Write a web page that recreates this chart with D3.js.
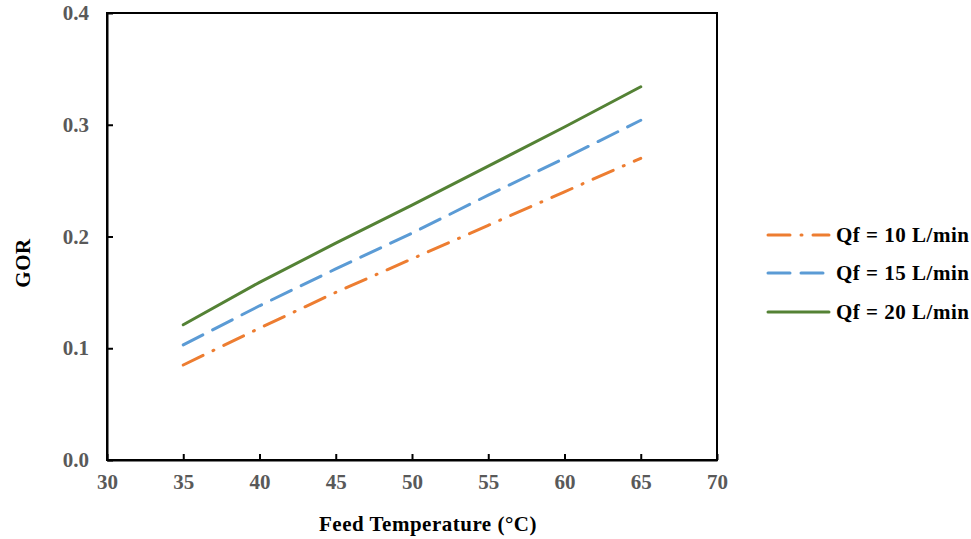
<!DOCTYPE html>
<html><head><meta charset="utf-8">
<script src="https://cdn.jsdelivr.net/npm/d3@7"></script>
<style>body{margin:0;background:#fff;} svg{display:block;}</style>
</head><body>
<svg id="chart" width="971" height="539"></svg>
<script>
const temps = [35, 40, 45, 50, 55, 60, 65];
const gor10 = [0.085, 0.118, 0.150, 0.180, 0.210, 0.240, 0.270];
const gor15 = [0.103, 0.138, 0.171, 0.203, 0.237, 0.270, 0.304];
const gor20 = [0.121, 0.159, 0.194, 0.228, 0.263, 0.298, 0.334];
const seriesNames = ["Qf = 10 L/min", "Qf = 15 L/min", "Qf = 20 L/min"];
const xTicks = [30, 35, 40, 45, 50, 55, 60, 65, 70];
const yTicks = [0, 0.1, 0.2, 0.3, 0.4];

const colors = ["#ED7D31", "#5B9BD5", "#548235"];
const dashes = ["22,11,1,11", "22,11", null];
const series = [gor10, gor15, gor20];

const svg = d3.select("#chart");
const L = 107, R = 717, T = 13, B = 460;
const x = d3.scaleLinear().domain([30, 70]).range([L, R]);
const y = d3.scaleLinear().domain([0, 0.4]).range([B, T]);
const font = "'Liberation Serif', 'Times New Roman', serif";

// frame
svg.append("rect").attr("x", L).attr("y", T).attr("width", R - L).attr("height", B - T)
  .attr("fill", "none").attr("stroke", "#000").attr("stroke-width", 2);

// x axis
const xa = svg.append("g").attr("transform", `translate(0,${B})`)
  .call(d3.axisBottom(x).tickValues(xTicks).tickSizeInner(-6).tickSizeOuter(0).tickPadding(14).tickFormat(d3.format("d")));
xa.select(".domain").attr("stroke", "#000").attr("stroke-width", 2);
xa.selectAll(".tick line").attr("stroke", "#000").attr("stroke-width", 2);
xa.selectAll(".tick text").attr("font-family", font).attr("font-size", 21).attr("font-weight", "bold").attr("fill", "#595959");

// y axis
const ya = svg.append("g").attr("transform", `translate(${L},0)`)
  .call(d3.axisLeft(y).tickValues(yTicks).tickSizeInner(-6).tickSizeOuter(0).tickPadding(18).tickFormat(d3.format(".1f")));
ya.select(".domain").attr("stroke", "#000").attr("stroke-width", 2);
ya.selectAll(".tick line").attr("stroke", "#000").attr("stroke-width", 2);
ya.selectAll(".tick text").attr("font-family", font).attr("font-size", 21).attr("font-weight", "bold").attr("fill", "#595959");

// lines
const line = d3.line().x((d, i) => x(temps[i])).y(d => y(d));
series.forEach((s, k) => {
  const p = svg.append("path").datum(s).attr("d", line)
    .attr("fill", "none").attr("stroke", colors[k]).attr("stroke-width", 3)
    .attr("stroke-linecap", "round").attr("stroke-linejoin", "round");
  if (dashes[k]) p.attr("stroke-dasharray", dashes[k]);
});

// axis titles
svg.append("text").attr("x", 428).attr("y", 531).attr("text-anchor", "middle")
  .attr("font-family", font).attr("font-size", 21).attr("font-weight", "bold").attr("fill", "#000")
  .attr("letter-spacing", 0.5)
  .text("Feed Temperature (°C)");
svg.append("text").attr("transform", "translate(30,263) rotate(-90)").attr("text-anchor", "middle")
  .attr("font-family", font).attr("font-size", 21).attr("font-weight", "bold").attr("fill", "#000")
  .attr("letter-spacing", 0.5)
  .text("GOR");

// legend
const legY = [235, 273, 312];
seriesNames.forEach((name, k) => {
  const g = svg.append("g");
  const ln = g.append("line").attr("x1", 768).attr("x2", 829).attr("y1", legY[k]).attr("y2", legY[k])
    .attr("stroke", colors[k]).attr("stroke-width", 3).attr("stroke-linecap", "round");
  if (dashes[k]) ln.attr("stroke-dasharray", dashes[k]);
  g.append("text").attr("x", 836).attr("y", legY[k] + 7)
    .attr("font-family", font).attr("font-size", 21).attr("font-weight", "bold").attr("fill", "#000")
    .attr("letter-spacing", 0.5)
    .text(name);
});
</script>
</body></html>
